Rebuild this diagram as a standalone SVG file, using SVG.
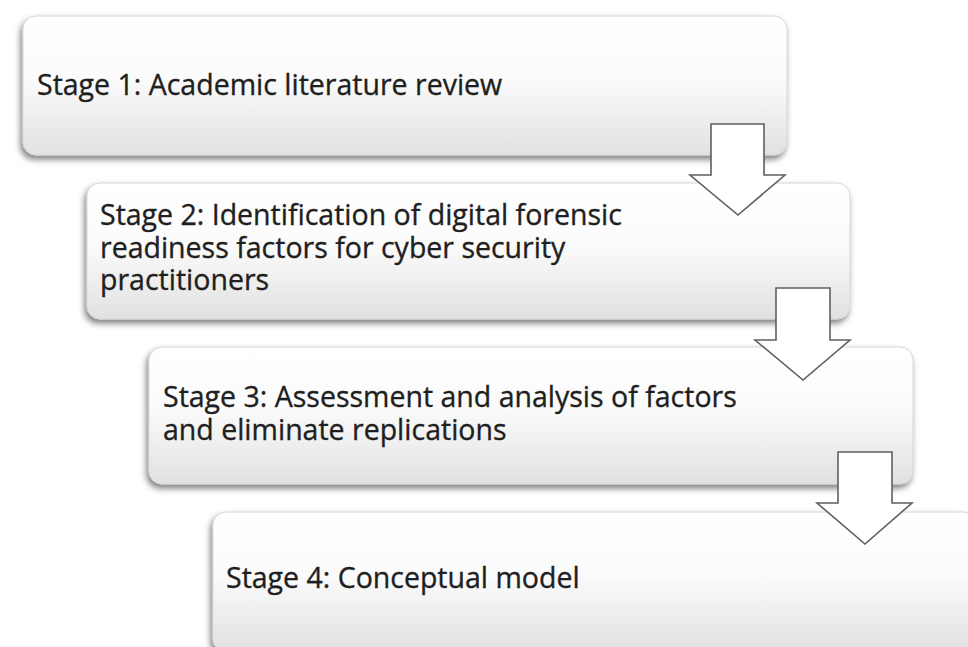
<svg xmlns="http://www.w3.org/2000/svg" width="968" height="647" viewBox="0 0 968 647">
  <defs>
    <linearGradient id="boxFill" x1="0" y1="0" x2="0" y2="1">
      <stop offset="0" stop-color="#ffffff"/>
      <stop offset="0.45" stop-color="#fbfbfb"/>
      <stop offset="1" stop-color="#e1e1e1"/>
    </linearGradient>
    <filter id="shadow" x="-5%" y="-10%" width="110%" height="130%">
      <feDropShadow dx="-2" dy="4" stdDeviation="3" flood-color="#000" flood-opacity="0.5"/>
    </filter>
  </defs>
  <style>
    .box { fill: url(#boxFill); stroke: #d6d6d6; stroke-width: 1; filter: url(#shadow); }
    .label { font-family: "Open Sans", "Liberation Sans", sans-serif; font-size: 28.5px; fill: #1f1f1f; stroke: #1f1f1f; stroke-width: 0.35; }
    .arrow { fill: #ffffff; stroke: #5f5f5f; stroke-width: 1.6; stroke-linejoin: miter; }
  </style>
  <rect width="968" height="647" fill="#ffffff"/>

  <g id="stage1">
    <rect class="box" x="23" y="16" width="764" height="139" rx="13"/>
    <text class="label" x="37" y="95">Stage 1: Academic literature review</text>
  </g>
  <g id="stage2">
    <rect class="box" x="87" y="183" width="763" height="136" rx="13"/>
    <text class="label" x="100" y="225">Stage 2: Identification of digital forensic<tspan x="100" dy="33">readiness factors for cyber security</tspan><tspan x="100" dy="32">practitioners</tspan></text>
  </g>
  <g id="stage3">
    <rect class="box" x="149" y="347" width="764" height="137" rx="13"/>
    <text class="label" x="163" y="407">Stage 3: Assessment and analysis of factors<tspan x="163" dy="33">and eliminate replications</tspan></text>
  </g>
  <g id="stage4">
    <rect class="box" x="213" y="512" width="764" height="140" rx="13"/>
    <text class="label" x="226" y="588">Stage 4: Conceptual model</text>
  </g>

  <!-- block arrows linking each stage to the next -->
  <g id="connectors">
    <path class="arrow" d="M711,124 H764 V175 H785 L738,215 L690,175 H711 Z"/>
    <path class="arrow" d="M776,288 H830 V340 H850 L803,380 L755,340 H776 Z"/>
    <path class="arrow" d="M838,452 H892 V503 H912 L865,544 L817,503 H838 Z"/>
  </g>
</svg>
